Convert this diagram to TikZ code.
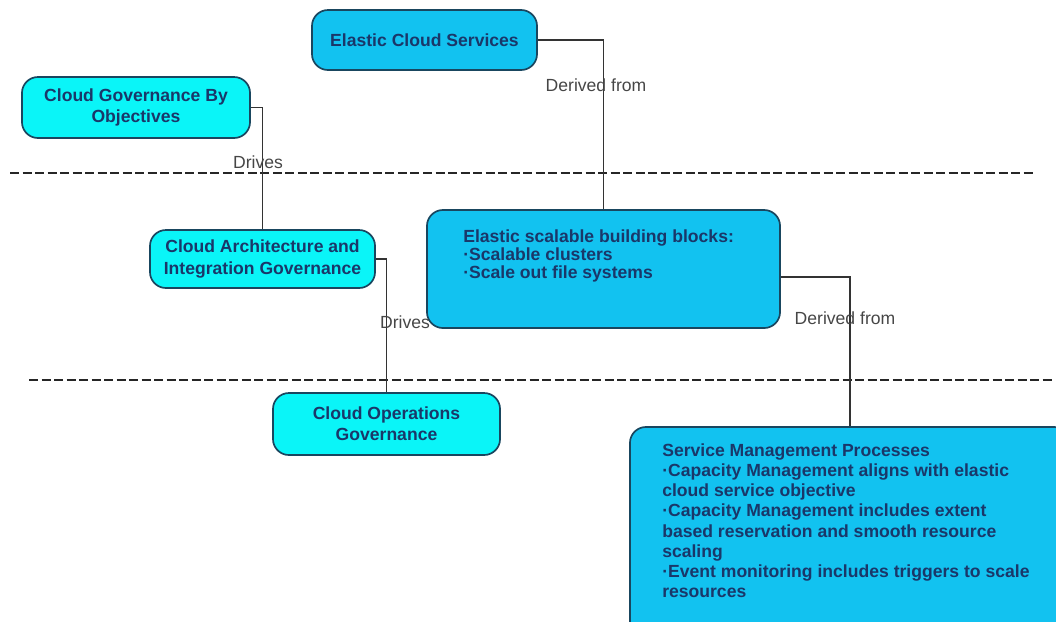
\documentclass[tikz,border=0pt]{standalone}
\usepackage{fontspec}
\setmainfont{Liberation Sans}
\usetikzlibrary{positioning}

\definecolor{deepsky}{RGB}{18,194,240}
\definecolor{aquabox}{RGB}{10,245,248}
\definecolor{boxline}{RGB}{25,70,95}
\definecolor{boxtext}{RGB}{26,55,105}
\definecolor{labeltext}{RGB}{70,70,70}

\tikzset{
  govbox/.style={draw=boxline, line width=1.2pt, rounded corners=0.4cm, fill=aquabox,
    text=boxtext, font=\bfseries\fontsize{12.5}{15}\selectfont, align=center, inner sep=0pt},
  cloudbox/.style={govbox, fill=deepsky},
  listtext/.style={text=boxtext, align=left, anchor=north west, inner sep=0pt},
  link/.style={draw=black!80, line width=0.8pt},
  linklabel/.style={text=labeltext, font=\fontsize{12.5}{14}\selectfont},
  layer/.style={dash pattern=on 6.4pt off 2.5pt, line width=1.5pt, draw=black!85}
}

\begin{document}
\begin{tikzpicture}[x=0.025cm,y=-0.025cm]
	\useasboundingbox (0,0) rectangle (1056,621);
	% layers
	\draw[layer] (10,173) -- (1034,173);
	\draw[layer] (29,380) -- (1052,380);
	% boxes
	\node[cloudbox, minimum width=5.625cm, minimum height=1.5cm] (ecs) at (424.5,40) {Elastic Cloud Services};
	\node[govbox, minimum width=5.7cm, minimum height=1.525cm] (cgbo) at (136,107.5) {Cloud Governance By\\Objectives};
	\node[govbox, minimum width=5.625cm, minimum height=1.45cm] (caig) at (262.5,259) {Cloud Architecture and\\Integration Governance};
	\node[govbox, minimum width=5.675cm, minimum height=1.55cm] (cog) at (386.5,424) {Cloud Operations\\Governance};
	\node[cloudbox, minimum width=8.825cm, minimum height=2.95cm] (esbb) at (603.5,269) {};
	\node[cloudbox, minimum width=11cm, minimum height=5.325cm] (smp) at (850,533.5) {};
	\node[listtext, font=\bfseries\fontsize{12.5}{12.8}\selectfont] (esbbtext) at (463,229)
		{Elastic scalable building blocks:\\·Scalable clusters\\·Scale out file systems};
	\node[listtext, font=\bfseries\fontsize{12.5}{14.4}\selectfont] (smptext) at (662,443)
		{Service Management Processes\\·Capacity Management aligns with elastic\\cloud service objective\\·Capacity Management includes extent\\based reservation and smooth resource\\scaling\\·Event monitoring includes triggers to scale\\resources};
	% connectors
	\draw[link] (ecs.east) -| (esbb.north);
	\draw[link] (cgbo.east) -| (caig.north);
	\draw[link] (caig.east) -| (cog.north);
	\draw[link] ([yshift=-0.2cm]esbb.east) -| (smp.north);
	\node[linklabel] (drives1) at (258,162) {Drives};
	\node[linklabel] (drives2) at (405,322) {Drives};
	\node[linklabel] (derived1) at (596,85) {Derived from};
	\node[linklabel] (derived2) at (845,318) {Derived from};
\end{tikzpicture}
\end{document}
